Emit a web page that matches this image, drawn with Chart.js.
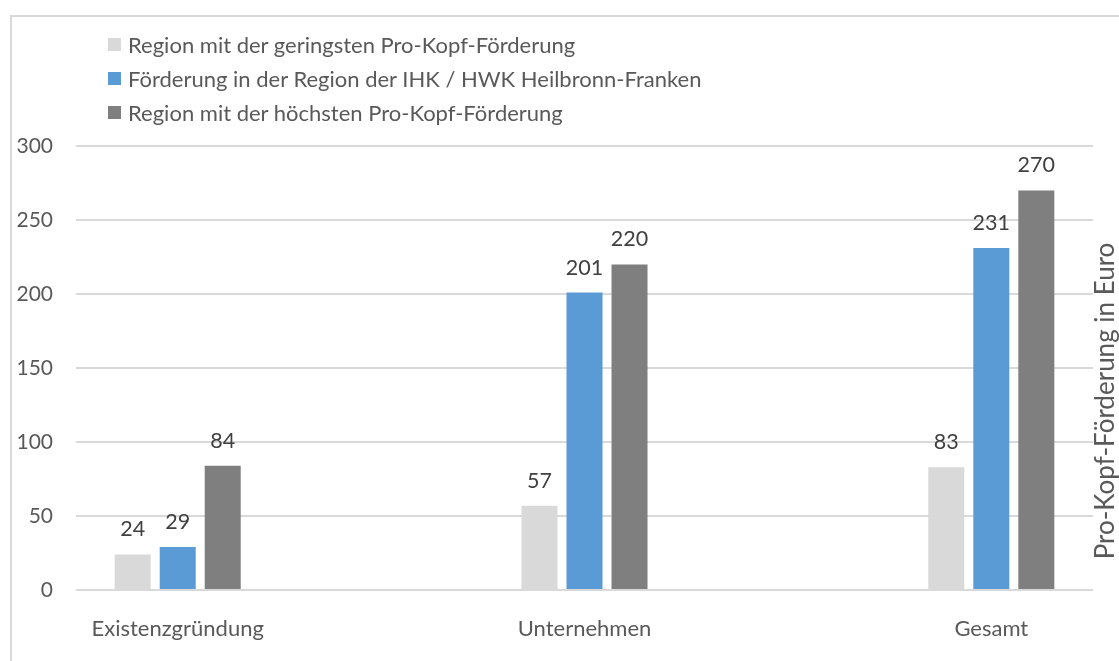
<!DOCTYPE html>
<html>
<head>
<meta charset="utf-8">
<script src="https://cdn.jsdelivr.net/npm/chart.js@4.4.1/dist/chart.umd.min.js"></script>
<style>
  html, body { margin: 0; padding: 0; background: #fff; }
  #wrap { position: relative; width: 1119px; height: 661px; overflow: hidden; font-family: Lato, sans-serif; }
  #frame { position: absolute; left: 10px; top: 15px; width: 1200px; height: 800px; border-left: 2px solid #d9d9d9; border-top: 2px solid #d9d9d9; }
  #chart { position: absolute; left: 0; top: 0; }
  #legend { position: absolute; left: 108px; top: 27px; }
  .item { height: 34px; display: flex; align-items: center; font-size: 22px; color: #595959; white-space: nowrap; }
  .box { width: 13px; height: 13px; margin-right: 7px; }
</style>
</head>
<body>
<div id="wrap">
  <div id="frame"></div>
  <canvas id="chart" width="1119" height="661"></canvas>
  <div id="legend"></div>
</div>
<script>
// ---------- Data ----------
const categories = ["Existenzgründung", "Unternehmen", "Gesamt"];
const seriesNames = [
  "Region mit der geringsten Pro-Kopf-Förderung",
  "Förderung in der Region der IHK / HWK Heilbronn-Franken",
  "Region mit der höchsten Pro-Kopf-Förderung"
];
const lowest = [24, 57, 83];
const heilbronn = [29, 201, 231];
const highest = [84, 220, 270];
const colors = ["#d9d9d9", "#5b9bd5", "#7f7f7f"];
const yTicks = [0, 50, 100, 150, 200, 250, 300];
const axisTitle = "Pro-Kopf-Förderung in Euro";

const FONT = "Lato, sans-serif";
const TEXT = "#595959";

// ---------- Legend (stacked, like the original) ----------
const legendEl = document.getElementById("legend");
seriesNames.forEach((name, i) => {
  const div = document.createElement("div");
  div.className = "item";
  div.innerHTML = `<span class="box" style="background:${colors[i]}"></span><span>${name}</span>`;
  legendEl.appendChild(div);
});

// ---------- Plugins ----------
const valueLabels = {
  id: "valueLabels",
  afterDatasetsDraw(chart) {
    const ctx = chart.ctx;
    ctx.save();
    ctx.font = `21.5px ${FONT}`;
    ctx.fillStyle = "#404040";
    ctx.textAlign = "center";
    ctx.textBaseline = "alphabetic";
    chart.data.datasets.forEach((ds, i) => {
      chart.getDatasetMeta(i).data.forEach((bar, j) => {
        ctx.fillText(String(ds.data[j].y), bar.x, bar.y - 18);
      });
    });
    ctx.restore();
  }
};

const rightTitle = {
  id: "rightTitle",
  afterDraw(chart) {
    const ctx = chart.ctx;
    const a = chart.chartArea;
    ctx.save();
    ctx.translate(a.right + 21, (a.top + a.bottom) / 2 + 33);
    ctx.rotate(-Math.PI / 2);
    ctx.font = `26px ${FONT}`;
    ctx.fillStyle = TEXT;
    ctx.textAlign = "center";
    ctx.textBaseline = "alphabetic";
    ctx.fillText(axisTitle, 0, 0);
    ctx.restore();
  }
};

// ---------- Chart ----------
const toPoints = arr => arr.map((v, i) => ({ x: i, y: v }));

new Chart(document.getElementById("chart"), {
  type: "bar",
  data: {
    datasets: [
      { label: seriesNames[0], data: toPoints(lowest), backgroundColor: colors[0] },
      { label: seriesNames[1], data: toPoints(heilbronn), backgroundColor: colors[1] },
      { label: seriesNames[2], data: toPoints(highest), backgroundColor: colors[2] }
    ]
  },
  options: {
    responsive: false,
    animation: false,
    categoryPercentage: 0.332,
    barPercentage: 0.8,
    layout: { padding: { left: 0, right: 26, top: 146, bottom: 0 } },
    plugins: { legend: { display: false }, tooltip: { enabled: false } },
    scales: {
      x: {
        type: "linear",
        min: -0.25,
        max: 2.25,
        offset: false,
        grid: { display: false },
        border: { display: false },
        afterBuildTicks: scale => { scale.ticks = categories.map((c, i) => ({ value: i })); },
        afterFit: scale => { scale.height = 71; },
        ticks: {
          autoSkip: false,
          maxRotation: 0,
          padding: 18,
          color: TEXT,
          font: { family: FONT, size: 22 },
          callback: v => categories[v]
        }
      },
      y: {
        min: 0,
        max: 300,
        afterBuildTicks: scale => { scale.ticks = yTicks.map(v => ({ value: v })); },
        afterFit: scale => { scale.width = 76; },
        grid: { color: "#d9d9d9", lineWidth: 2, drawTicks: false },
        border: { display: false },
        ticks: {
          padding: 23,
          color: TEXT,
          font: { family: FONT, size: 21 }
        }
      }
    }
  },
  plugins: [valueLabels, rightTitle]
});
</script>
</body>
</html>
